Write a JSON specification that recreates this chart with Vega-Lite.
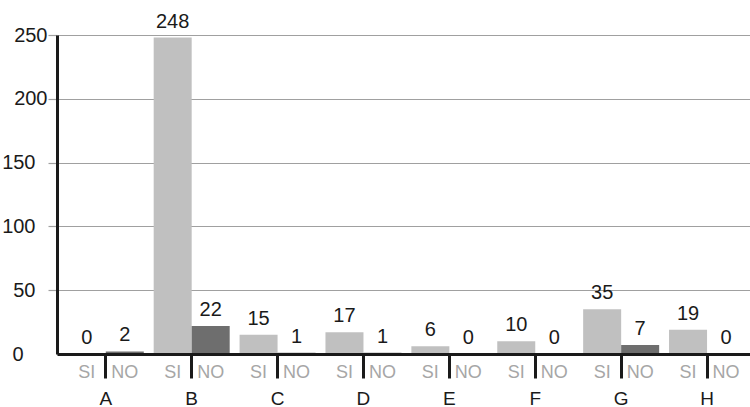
{
  "$schema": "https://vega.github.io/schema/vega-lite/v6.json",
  "width": 693,
  "height": 319,
  "autosize": {"type": "none"},
  "padding": {"left": 57, "top": 35, "right": 0, "bottom": 53},
  "background": "white",
  "data": {
    "values": [
      {"group": "A", "cat": "SI", "value": 0},
      {"group": "A", "cat": "NO", "value": 2},
      {"group": "B", "cat": "SI", "value": 248},
      {"group": "B", "cat": "NO", "value": 22},
      {"group": "C", "cat": "SI", "value": 15},
      {"group": "C", "cat": "NO", "value": 1},
      {"group": "D", "cat": "SI", "value": 17},
      {"group": "D", "cat": "NO", "value": 1},
      {"group": "E", "cat": "SI", "value": 6},
      {"group": "E", "cat": "NO", "value": 0},
      {"group": "F", "cat": "SI", "value": 10},
      {"group": "F", "cat": "NO", "value": 0},
      {"group": "G", "cat": "SI", "value": 35},
      {"group": "G", "cat": "NO", "value": 7},
      {"group": "H", "cat": "SI", "value": 19},
      {"group": "H", "cat": "NO", "value": 0}
    ]
  },
  "encoding": {
    "x": {
      "field": "group",
      "type": "nominal",
      "sort": ["A", "B", "C", "D", "E", "F", "G", "H"],
      "scale": {"paddingInner": 0, "paddingOuter": 0.034, "align": 1},
      "axis": {
        "title": null,
        "domainColor": "#1a1a1a",
        "domainWidth": 3,
        "tickColor": "#1a1a1a",
        "tickWidth": 3,
        "tickSize": 24,
        "labelFontSize": 19,
        "labelColor": "#1a1a1a",
        "labelAngle": 0,
        "labelBaseline": "middle",
        "labelPadding": 20,
        "grid": false,
        "zindex": 1
      }
    },
    "xOffset": {
      "field": "cat",
      "type": "nominal",
      "sort": ["SI", "NO"],
      "scale": {"paddingInner": 0, "paddingOuter": 0.13}
    }
  },
  "layer": [
    {
      "mark": {"type": "bar"},
      "encoding": {
        "y": {
          "field": "value",
          "type": "quantitative",
          "scale": {"domain": [0, 250], "nice": false},
          "axis": {
            "title": null,
            "values": [0, 50, 100, 150, 200, 250],
            "grid": true,
            "gridColor": "#a0a0a0",
            "gridWidth": 1.2,
            "domainColor": "#1a1a1a",
            "domainWidth": 3,
            "tickColor": {"condition": {"test": "datum.value === 0", "value": "transparent"}, "value": "#a0a0a0"},
            "tickSize": 9,
            "tickWidth": 1.2,
            "labelFontSize": 20,
            "labelColor": "#1a1a1a",
            "labelAlign": "right",
            "labelBaseline": "middle",
            "labelFlush": false,
            "labelOverlap": false,
            "labelPadding": {
              "condition": [
                {"test": "datum.value >= 200", "value": 1},
                {"test": "datum.value === 0", "value": 25}
              ],
              "value": 13
            }
          }
        },
        "color": {
          "field": "cat",
          "type": "nominal",
          "scale": {"domain": ["SI", "NO"], "range": ["#c0c0c0", "#6e6e6e"]},
          "legend": null
        }
      }
    },
    {
      "mark": {"type": "text", "dy": -16, "baseline": "middle", "fontSize": 20, "color": "#1a1a1a"},
      "encoding": {
        "y": {"field": "value", "type": "quantitative"},
        "text": {"field": "value", "type": "quantitative"}
      }
    },
    {
      "mark": {"type": "text", "dy": 19, "baseline": "middle", "fontSize": 18, "color": "#a6a6a6"},
      "encoding": {
        "y": {"datum": 0},
        "text": {"field": "cat", "type": "nominal"}
      }
    }
  ],
  "config": {"view": {"stroke": null}, "font": "Liberation Sans"}
}
